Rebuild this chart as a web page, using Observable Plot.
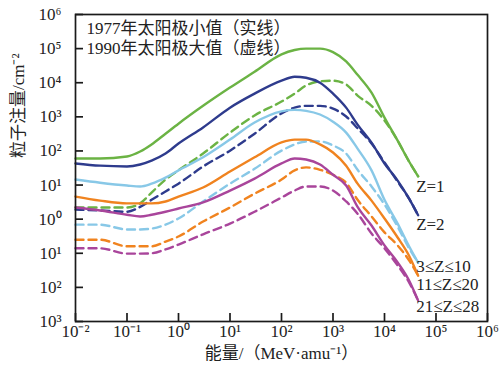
<!DOCTYPE html>
<html><head><meta charset="utf-8">
<script src="https://cdn.jsdelivr.net/npm/d3@7"></script>
<script src="https://cdn.jsdelivr.net/npm/@observablehq/plot@0.6"></script>
<style>body{margin:0;background:#fff} svg{display:block}</style>
</head><body><div id="chart"></div>
<script>
// Energy grid (MeV/amu)
const energies = [0.01, 0.03, 0.1, 0.18, 0.3, 0.56, 1, 3, 10, 30, 100, 180, 300, 560, 1000, 1800, 3000, 5600, 10000, 18000, 30000, 45000];

// 1977 solar minimum (solid lines), particle fluence /cm^2
const min_Z1     = [60, 60, 69, 96, 155, 320, 630, 2100, 7200, 21000, 68000, 91000, 100000, 100000, 79000, 42000, 17000, 5100, 950, 200, 49, 18];
const min_Z2     = [43, 37, 35, 40, 52, 84, 165, 490, 1860, 4800, 11500, 15000, 14000, 10000, 4800, 1860, 590, 175, 43, 13.5, 4.0, 1.3];
const min_Z3_10  = [14.5, 11.7, 9.7, 9.1, 11, 16.5, 27, 65, 215, 680, 1450, 1600, 1500, 1170, 720, 345, 117, 27, 3.7, 0.74, 0.16, 0.053];
const min_Z11_20 = [4.6, 3.5, 2.9, 2.9, 2.9, 3.3, 4.6, 8.5, 25, 65, 178, 215, 215, 155, 90, 37, 11, 3.5, 1.05, 0.29, 0.085, 0.022];
const min_Z21_28 = [2.2, 1.8, 1.35, 1.2, 1.35, 1.65, 2.05, 3.1, 6.9, 15.5, 43, 60, 56, 40, 20, 9.7, 2.3, 0.65, 0.17, 0.054, 0.016, 0.0041];

// 1990 solar maximum (dashed lines)
const max_Z1     = [2.2, 2.2, 2.2, 2.9, 6.0, 14.5, 27, 84, 345, 1100, 2800, 4800, 8300, 11000, 11500, 8900, 4200, 2100, 780, 200, 49, 18];
const max_Z2     = [1.9, 1.8, 1.65, 2.3, 3.7, 6.5, 11, 35, 102, 320, 1260, 1860, 2100, 2100, 1740, 1020, 460, 165, 46, 12.6, 4.0, 1.3];
const max_Z3_10  = [0.69, 0.69, 0.5, 0.5, 0.53, 0.69, 1.05, 3.3, 11, 30, 102, 155, 190, 190, 145, 84, 28, 9.1, 2.7, 0.6, 0.14, 0.053];
const max_Z11_20 = [0.25, 0.25, 0.16, 0.16, 0.16, 0.22, 0.31, 0.85, 2.2, 5.6, 14.5, 27, 33, 28, 20, 11.7, 3.7, 1.2, 0.41, 0.17, 0.062, 0.022];
const max_Z21_28 = [0.14, 0.14, 0.098, 0.098, 0.10, 0.13, 0.18, 0.36, 0.74, 1.65, 4.3, 6.9, 9.1, 9.1, 6.9, 3.3, 1.45, 0.38, 0.14, 0.044, 0.014, 0.0041];

const seriesNames = ["Z=1", "Z=2", "3≤Z≤10", "11≤Z≤20", "21≤Z≤28"];
const seriesColors = ["#6bb344", "#2e3b8d", "#88c8e7", "#f0831f", "#a9459b"];
const legendLines = ["1977年太阳极小值（实线）", "1990年太阳极大值（虚线）"];

const xTicks = [1e-2, 1e-1, 1e0, 1e1, 1e2, 1e3, 1e4, 1e5, 1e6];
const xTickLabels = ["10⁻²", "10⁻¹", "10⁰", "10¹", "10²", "10³", "10⁴", "10⁵", "10⁶"];
const yTicks = [1e6, 1e5, 1e4, 1e3, 1e2, 1e1, 1e0, 1e-1, 1e-2, 1e-3];
const yTickLabels = ["10⁶", "10⁵", "10⁴", "10³", "10²", "10¹", "10⁰", "10¹", "10²", "10³"];
const xLabel = "能量/（MeV·amu⁻¹）";
const yLabel = "粒子注量/cm⁻²";

const minSeries = [min_Z1, min_Z2, min_Z3_10, min_Z11_20, min_Z21_28];
const maxSeries = [max_Z1, max_Z2, max_Z3_10, max_Z11_20, max_Z21_28];
const toRows = (vals) => energies.map((e, i) => ({E: e, F: vals[i]}));

const font = '"Liberation Serif","Times New Roman","Noto Sans CJK SC",serif';
const labelDy = [10, 9, 4, 9, 6];

const marks = [];
maxSeries.forEach((vals, k) => {
  marks.push(Plot.line(toRows(vals), {x: "E", y: "F", stroke: seriesColors[k], strokeWidth: 2.4, strokeDasharray: "8,5", curve: "monotone-x"}));
});
minSeries.forEach((vals, k) => {
  marks.push(Plot.line(toRows(vals), {x: "E", y: "F", stroke: seriesColors[k], strokeWidth: 2.4, curve: "monotone-x"}));
});
seriesNames.forEach((name, k) => {
  const rows = toRows(minSeries[k]);
  const last = rows[rows.length - 1];
  marks.push(Plot.text([last], {x: "E", y: "F", text: () => name, textAnchor: "start", dx: -2, dy: labelDy[k], fontSize: 17, fill: "#222"}));
});

const chart = Plot.plot({
  width: 500, height: 371,
  marginLeft: 75, marginRight: 13, marginTop: 14, marginBottom: 50,
  style: {fontFamily: font, background: "#fff", color: "#222"},
  x: {type: "log", domain: [1e-2, 1e6], axis: null},
  y: {type: "log", domain: [1e-3, 1e6], axis: null},
  marks: [
    ...marks,
    Plot.frame({stroke: "#1a1a1a", strokeWidth: 1.7}),
    Plot.tickX(xTicks, {x: d => d, insetTop: 299, stroke: "#1a1a1a", strokeWidth: 1.7}),
    Plot.tickY(yTicks, {y: d => d, insetRight: 404, stroke: "#1a1a1a", strokeWidth: 1.7}),
    Plot.text(xTicks, {x: d => d, frameAnchor: "bottom", dy: 15, text: (d, i) => xTickLabels[i], fontSize: 17, fill: "#222"}),
    Plot.text(yTicks, {y: d => d, frameAnchor: "left", dx: -14, textAnchor: "end", text: (d, i) => yTickLabels[i], fontSize: 17, fill: "#222"}),
    Plot.text([xLabel], {frameAnchor: "bottom", dy: 37, text: d => d, fontSize: 17, fill: "#222"}),
    Plot.text([yLabel], {frameAnchor: "left", dx: -57, dy: -10, rotate: -90, text: d => d, fontSize: 17, fill: "#222"}),
    Plot.text([legendLines.join("\n")], {frameAnchor: "top-left", dx: 11, dy: 5, lineAnchor: "top", lineHeight: 1.2, textAnchor: "start", text: d => d, fontSize: 17, fill: "#222"})
  ]
});
document.getElementById("chart").append(chart);
</script>
</body></html>
